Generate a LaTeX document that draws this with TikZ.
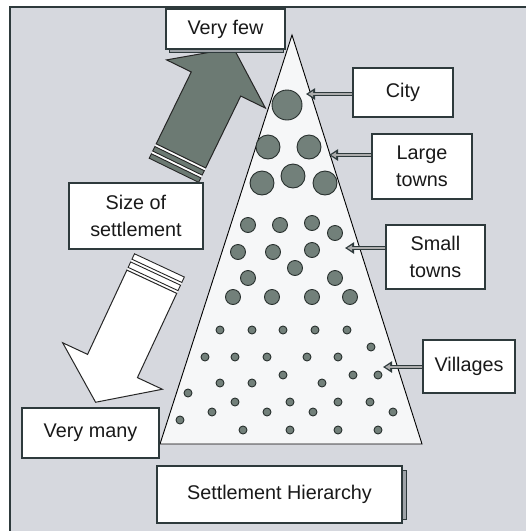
\documentclass[tikz,border=0pt]{standalone}
\usepackage{fontspec}
\setmainfont{Liberation Sans}
\usetikzlibrary{arrows.meta}
\definecolor{bgc}{HTML}{D6D8DE}
\definecolor{framec}{HTML}{2E3A3C}
\definecolor{dotc}{HTML}{72807A}
\definecolor{dotedge}{HTML}{28302E}
\definecolor{arrc}{HTML}{6C7A73}
\definecolor{tric}{HTML}{F6F7F8}
\definecolor{shadc}{HTML}{9EA3A8}
\begin{document}
\begin{tikzpicture}[x=1pt,y=-1pt,
  box/.style={draw=framec, line width=1.1pt, fill=white, inner sep=0pt, align=center,
    font=\fontsize{19.8}{27.5}\selectfont, text=black!90},
  connout/.style={draw=framec, line width=4.6pt, -{Triangle[length=9pt,width=11pt]}},
  connin/.style={draw=gray!65, line width=2.2pt, shorten >=2.2pt, -{Triangle[length=5pt,width=5.5pt]}},
  dotst/.style={fill=dotc, draw=dotedge, line width=0.9pt},
  bigarr/.style={draw=black!85, line width=1pt, line join=miter}]
\useasboundingbox (0,0) rectangle (526,531);
\fill[white] (0,0) rectangle (526,531);
\fill[bgc] (10,7) rectangle (526,531);
\draw[framec, line width=1.5pt] (10,531) -- (10,7) -- (526,7);

% pyramid
\draw[fill=tric, line width=0.9pt, line join=miter] (292,35) -- (422,444) -- (160,444) -- cycle;

% settlements
\draw[dotst] (287,105) circle[radius=15pt];
\foreach \x/\y in {268/147, 309/147, 262/183, 293/176, 325/183}
  \draw[dotst] (\x,\y) circle[radius=12pt];
\foreach \x/\y in {248/225, 280/225, 312/223, 335/233, 238/252, 273/252, 312/250,
  295/268, 248/278, 335/278, 233/297, 272/297, 312/297, 350/297}
  \draw[dotst] (\x,\y) circle[radius=7.5pt];
\foreach \x/\y in {220/330, 252/330, 283/330, 315/330, 347/330, 371/347,
  205/357, 235/357, 267/357, 307/357, 338/357,
  283/375, 353/375, 378/375, 220/383, 252/383, 322/383, 188/393,
  235/402, 290/402, 338/402, 370/402, 212/412, 267/412, 313/412, 393/412,
  180/420, 243/430, 290/430, 338/430, 378/430}
  \draw[dotst] (\x,\y) circle[radius=4pt];

% up arrow (dark)
\begin{scope}[shift={(216,84)}, rotate=64, x=1pt, y=1pt]
  \fill[white] (-80,27.5) rectangle (-96,-27.5);
  \draw[bigarr, fill=arrc] (40,0) -- (0,55) -- (0,27.5) -- (-80,27.5) -- (-80,-27.5) -- (0,-27.5) -- (0,-55) -- cycle;
  \draw[bigarr, fill=arrc, line width=0.9pt] (-83,27.5) rectangle (-88,-27.5);
  \draw[bigarr, fill=arrc, line width=0.9pt] (-91,27.5) rectangle (-96,-27.5);
\end{scope}

% down arrow (white)
\begin{scope}[shift={(112.5,366)}, rotate=245, x=1pt, y=1pt]
  \fill[white] (-93,27.5) rectangle (-111,-27.5);
  \draw[bigarr, fill=white] (40,0) -- (0,55) -- (0,27.5) -- (-93,27.5) -- (-93,-27.5) -- (0,-27.5) -- (0,-55) -- cycle;
  \draw[bigarr, fill=white, line width=0.9pt] (-96,27.5) rectangle (-102,-27.5);
  \draw[bigarr, fill=white, line width=0.9pt] (-105,27.5) rectangle (-111,-27.5);
\end{scope}

% shadows
\draw[fill=shadc, draw=framec, line width=0.6pt] (169,47) rectangle (283,52);
\draw[fill=shadc, draw=framec, line width=0.6pt] (399,470) rectangle (406,519);

% boxes
\node[box, minimum width=119pt, minimum height=40pt] (vf) at (225.5,29) {Very few};
\node[box, minimum width=100pt, minimum height=49pt] (city) at (403,92.5) {City};
\node[box, minimum width=100pt, minimum height=65pt] (large) at (422,166.5) {Large\\towns};
\node[box, minimum width=99pt, minimum height=64pt] (small) at (435.5,257) {Small\\towns};
\node[box, minimum width=92pt, minimum height=53pt] (vill) at (469,366.5) {Villages};
\node[box, minimum width=134pt, minimum height=66pt] (size) at (136,216) {Size of\\settlement};
\node[box, minimum width=137pt, minimum height=50pt] (many) at (90.5,433) {Very many};
\node[box, minimum width=245pt, minimum height=57pt] (sh) at (279.5,494.5) {Settlement Hierarchy};

% connectors
\coordinate (tc) at (306,94);
\coordinate (tl) at (329,155);
\coordinate (ts) at (345,248);
\coordinate (tv) at (383,367);
\foreach \t/\b in {tc/city, tl/large, ts/small, tv/vill} {
  \draw[connout] (\t -| \b.west) -- (\t);
  \draw[connin] ([xshift=-0.6pt]\t -| \b.west) -- (\t);
}
\end{tikzpicture}
\end{document}
